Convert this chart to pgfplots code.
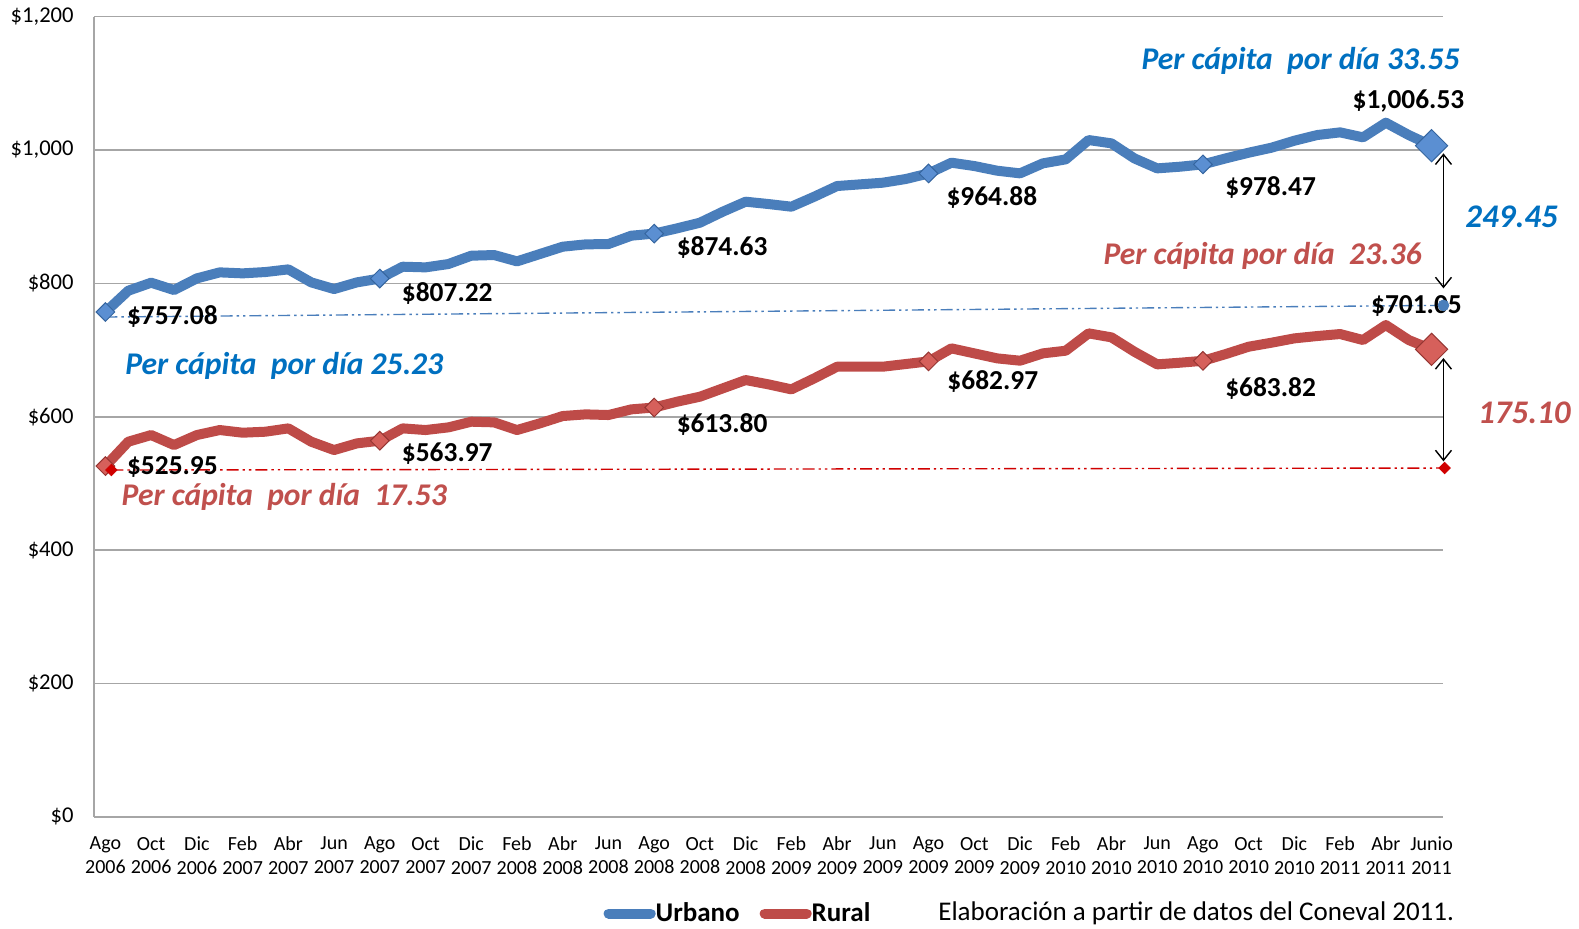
\documentclass[border=0pt]{standalone}
\usepackage{pgfplots}
\pgfplotsset{compat=1.18}
\usepackage{pgfplotstable}
\usepackage{fontspec}
\setmainfont{Carlito}
\usetikzlibrary{arrows.meta}
\definecolor{urb}{HTML}{4A7EBB}
\definecolor{rur}{HTML}{BE4B48}
\definecolor{urbfill}{HTML}{5B8FD2}
\definecolor{urbdraw}{HTML}{35659F}
\definecolor{rurfill}{HTML}{D6605B}
\definecolor{rurdraw}{HTML}{963633}
\definecolor{tblue}{HTML}{0070C0}
\definecolor{tred}{HTML}{C0504D}
\definecolor{dred}{HTML}{D00000}
\definecolor{gridc}{HTML}{A6A6A6}
\pgfplotstableread{
i urb rur
0 757.08 525.95
1 789 562.5
2 801 572.5
3 790 557.5
4 807.5 572.5
5 816.5 580
6 815 576
7 817 577.5
8 821 582.5
9 801.5 562.5
10 791.5 550
11 801.5 560
12 807.22 563.97
13 825 582.5
14 824 580
15 829 584
16 841.5 592.5
17 842.5 591.5
18 833 580
19 844 590
20 855 601
21 858.5 603.5
22 859 602.5
23 871.5 611
24 874.63 613.80
25 882.5 622.5
26 891 630
27 907.5 642.5
28 922.5 655
29 919 648.5
30 915 641
31 930 657.5
32 946 675
33 948.5 675
34 951 675
35 956.5 679
36 964.88 682.97
37 981 702.5
38 976 695
39 969 687.5
40 965 684
41 980 695
42 986 699
43 1015 725
44 1010 719
45 987.5 697.5
46 972.5 678.5
47 975 681
48 978.47 683.82
49 987.5 694
50 996 705
51 1003.5 711
52 1014 717.5
53 1022.5 721
54 1026.5 724
55 1019 715
56 1041 737.5
57 1022.5 715
58 1006.53 701.05
}\data
\begin{document}
\begin{tikzpicture}
\useasboundingbox (-47pt,-55.65pt) rectangle (742.5pt,408.35pt);
\begin{axis}[
  at={(0,0)}, anchor=south west,
  scale only axis, width=674.5pt, height=400pt,
  xmin=-0.5, xmax=58.5, ymin=0, ymax=1200,
  clip=false,
  axis x line*=bottom, axis y line*=left,
  axis line style={gridc, line width=0.8pt, -},
  ymajorgrids, grid style={gridc, line width=0.8pt},
  major tick length=0pt,
  ytick={0,200,...,1200},
  yticklabels={\$0,\$200,\$400,\$600,\$800,{\$1,000},{\$1,200}},
  yticklabel style={font=\fontsize{11.3}{12}\selectfont, anchor=east, inner sep=0pt, xshift=-10pt},
  xtick={0,2,...,58},
  xticklabels={Ago\\2006,Oct\\2006,Dic\\2006,Feb\\2007,Abr\\2007,Jun\\2007,Ago\\2007,Oct\\2007,Dic\\2007,Feb\\2008,Abr\\2008,Jun\\2008,Ago\\2008,Oct\\2008,Dic\\2008,Feb\\2009,Abr\\2009,Jun\\2009,Ago\\2009,Oct\\2009,Dic\\2009,Feb\\2010,Abr\\2010,Jun\\2010,Ago\\2010,Oct\\2010,Dic\\2010,Feb\\2011,Abr\\2011,Junio\\2011},
  xticklabel style={font=\fontsize{10}{11.8}\selectfont, align=center, anchor=north, inner sep=0pt, yshift=-10pt},
  legend style={at={(0.3775,-0.1210)}, anchor=west, draw=none, fill=none, inner sep=0pt,
    font=\fontsize{13.5}{14}\selectfont\bfseries, legend columns=2,
    /tikz/every even column/.append style={column sep=10pt},
    nodes={inner sep=0pt, anchor=west}},
  legend image code/.code={\draw[#1, line cap=round] (2.5pt,0pt) -- (23.5pt,0pt);},
]
\addplot[urb, line width=5pt, line join=round] table[x=i,y=urb]{\data};
\addlegendentry{Urbano}
\addplot[rur, line width=5pt, line join=round] table[x=i,y=rur]{\data};
\addlegendentry{Rural}
% markers
\addplot[only marks, mark=square*, mark size=3.3pt, mark indices={1,13,25,37,49},
  mark options={rotate=45, fill=urbfill, draw=urbdraw, line width=0.5pt}, forget plot] table[x=i,y=urb]{\data};
\addplot[only marks, mark=square*, mark size=3.3pt, mark indices={1,13,25,37,49},
  mark options={rotate=45, fill=rurfill, draw=rurdraw, line width=0.5pt}, forget plot] table[x=i,y=rur]{\data};
\addplot[only marks, mark=square*, mark size=5.7pt,
  mark options={rotate=45, fill=urbfill, draw=urbdraw, line width=0.5pt}, forget plot] coordinates {(58,1006.53)};
\addplot[only marks, mark=square*, mark size=5.7pt,
  mark options={rotate=45, fill=rurfill, draw=rurdraw, line width=0.5pt}, forget plot] coordinates {(58,701.05)};
% reference lines
\addplot[urb, line width=0.7pt, dash pattern=on 6pt off 2pt on 1.2pt off 2pt on 1.2pt off 2pt, forget plot]
  coordinates {(0,749.5) (58.52,767)};
\addplot[only marks, mark=*, mark size=2.7pt, mark options={fill=urb, draw=urb}, forget plot]
  coordinates {(58.52,767)};
\addplot[dred, line width=0.7pt, dash pattern=on 6pt off 2pt on 1.2pt off 2pt on 1.2pt off 2pt, forget plot]
  coordinates {(0.26,520) (58.57,523)};
\addplot[only marks, mark=square*, mark size=2pt, mark options={rotate=45, fill=dred, draw=dred}, forget plot]
  coordinates {(0.26,520) (58.57,523)};
% arrows
\addplot[black, line width=0.7pt, {Straight Barb[length=5pt,width=8pt]}-{Straight Barb[length=5pt,width=8pt]}, forget plot]
  coordinates {(58.52,995) (58.52,792.5)};
\addplot[black, line width=0.7pt, {Straight Barb[length=5pt,width=8pt]}-{Straight Barb[length=5pt,width=8pt]}, forget plot]
  coordinates {(58.52,688) (58.52,533)};
% data labels
\begin{scope}[every node/.style={inner sep=0pt, font=\fontsize{13.7}{16}\selectfont\bfseries}]
\node at (axis cs:2.93,751) {\$757.08};
\node at (axis cs:14.95,785.5) {\$807.22};
\node at (axis cs:26.97,854.5) {\$874.63};
\node at (axis cs:38.77,929.5) {\$964.88};
\node at (axis cs:50.96,944.5) {\$978.47};
\node at (axis cs:56.99,1073.5) {\$1,006.53};
\node at (axis cs:57.34,766) {\$701.05};
\node at (axis cs:2.93,524.5) {\$525.95};
\node at (axis cs:14.95,544) {\$563.97};
\node at (axis cs:26.97,589) {\$613.80};
\node at (axis cs:38.81,653.5) {\$682.97};
\node at (axis cs:50.96,643) {\$683.82};
\end{scope}
\begin{scope}[every node/.style={inner sep=0pt, font=\fontsize{15.8}{18}\selectfont\bfseries\itshape}]
\node[text=tblue] at (axis cs:52.27,1133.5) {Per cápita\ \ por día 33.55};
\node[text=tred] at (axis cs:50.61,841) {Per cápita por día\ \ 23.36};
\node[text=tblue] at (axis cs:7.82,676) {Per cápita\ \ por día 25.23};
\node[text=tred] at (axis cs:7.82,479.5) {Per cápita\ \ por día\ \ 17.53};
\end{scope}
\begin{scope}[every node/.style={inner sep=0pt, font=\fontsize{16.5}{18}\selectfont\bfseries\itshape}]
\node[text=tblue] at (axis cs:61.5,899.5) {249.45};
\node[text=tred] at (axis cs:62.06,605.5) {175.10};
\end{scope}
\node[anchor=east, inner sep=0pt, font=\fontsize{13.5}{16}\selectfont] at (axis cs:59.0,-144.5) {Elaboración a partir de datos del Coneval 2011.};
\end{axis}
\end{tikzpicture}
\end{document}
